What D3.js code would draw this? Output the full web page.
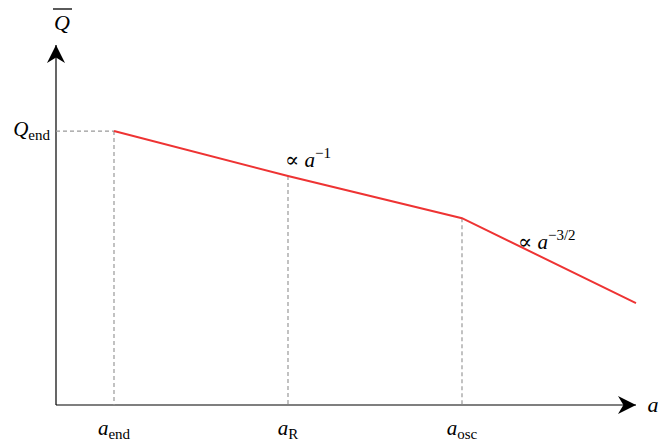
<!DOCTYPE html>
<html>
<head>
<meta charset="utf-8">
<script src="https://cdn.jsdelivr.net/npm/d3@7"></script>
<style>
  body { margin: 0; background: #fff; }
  text { font-family: "Liberation Serif", "DejaVu Serif", serif; fill: #000; }
  .math { font-style: italic; }
</style>
</head>
<body>
<div id="chart"></div>
<script>
// Schematic log-log positions (arbitrary units)
const pointLabels = ["end", "R", "osc", ""];
const xValues = [1, 4, 7, 10];
const yValues = [7.61, 6.36, 5.19, 2.83];
const markedPoints = [0, 1, 2]; // points with dashed guides and tick labels

const width = 664, height = 444;
const margin = { top: 45, right: 28, bottom: 39, left: 56 };

const svg = d3.select("#chart").append("svg")
  .attr("width", width).attr("height", height);

const x = d3.scaleLinear().domain([0, 10]).range([margin.left, margin.left + 580]);
const y = d3.scaleLinear().domain([0, 10]).range([height - margin.bottom, height - margin.bottom - 360]);

const defs = svg.append("defs");
defs.append("marker")
  .attr("id", "arrow")
  .attr("viewBox", "0 0 10 10")
  .attr("refX", 10).attr("refY", 5)
  .attr("markerWidth", 18).attr("markerHeight", 18)
  .attr("markerUnits", "userSpaceOnUse")
  .attr("orient", "auto")
  .append("path")
  .attr("d", "M0,0 L10,5 L0,10 L3,5 Z")
  .attr("fill", "#000");

// Axes
svg.append("line")
  .attr("x1", x(0)).attr("y1", y(0))
  .attr("x2", x(10)).attr("y2", y(0))
  .attr("stroke", "#000").attr("stroke-width", 1.2)
  .attr("marker-end", "url(#arrow)");
svg.append("line")
  .attr("x1", x(0)).attr("y1", y(0))
  .attr("x2", x(0)).attr("y2", y(10))
  .attr("stroke", "#000").attr("stroke-width", 1.2)
  .attr("marker-end", "url(#arrow)");

// Dashed guides
const guides = svg.append("g")
  .attr("stroke", "#999").attr("stroke-width", 1.2)
  .attr("stroke-dasharray", "4,3");
markedPoints.forEach(i => {
  guides.append("line")
    .attr("x1", x(xValues[i])).attr("y1", y(yValues[i]))
    .attr("x2", x(xValues[i])).attr("y2", y(0));
});
guides.append("line")
  .attr("x1", x(0)).attr("y1", y(yValues[0]))
  .attr("x2", x(xValues[0])).attr("y2", y(yValues[0]));

// Red broken power law
const line = d3.line().x((d, i) => x(xValues[i])).y(d => y(d));
svg.append("path")
  .attr("d", line(yValues))
  .attr("fill", "none")
  .attr("stroke", "#ee3333")
  .attr("stroke-width", 2);

// Tick labels a_sub
markedPoints.forEach(i => {
  const t = svg.append("text")
    .attr("x", x(xValues[i])).attr("y", y(0) + 30)
    .attr("text-anchor", "middle").attr("font-size", 21);
  t.append("tspan").attr("class", "math").text("a");
  t.append("tspan").attr("font-size", 15).attr("dy", 4).text(pointLabels[i]);
});

// Q_end label
const q = svg.append("text")
  .attr("x", x(0) - 6).attr("y", y(yValues[0]) + 5)
  .attr("text-anchor", "end").attr("font-size", 21);
q.append("tspan").attr("class", "math").text("Q");
q.append("tspan").attr("font-size", 15).attr("dy", 4).text("end");

// Axis titles
svg.append("text").attr("class", "math")
  .attr("x", x(10) + 17).attr("y", y(0) + 7)
  .attr("text-anchor", "middle").attr("font-size", 22).text("a");
svg.append("text").attr("class", "math")
  .attr("x", x(0) + 6).attr("y", 30)
  .attr("text-anchor", "middle").attr("font-size", 22).text("Q");
svg.append("line")
  .attr("x1", x(0) - 3).attr("x2", x(0) + 16)
  .attr("y1", 9).attr("y2", 9)
  .attr("stroke", "#000").attr("stroke-width", 1.3);

// Slope annotations
const s1 = svg.append("text")
  .attr("x", x(xValues[1]) - 3).attr("y", y(yValues[1]) - 9)
  .attr("font-size", 21);
s1.append("tspan").text("∝ ");
s1.append("tspan").attr("class", "math").text("a");
s1.append("tspan").attr("font-size", 15).attr("dy", -9).text("−1");

const s2 = svg.append("text")
  .attr("x", 518).attr("y", 249)
  .attr("font-size", 21);
s2.append("tspan").text("∝ ");
s2.append("tspan").attr("class", "math").text("a");
s2.append("tspan").attr("font-size", 15).attr("dy", -9).text("−3/2");
</script>
</body>
</html>
